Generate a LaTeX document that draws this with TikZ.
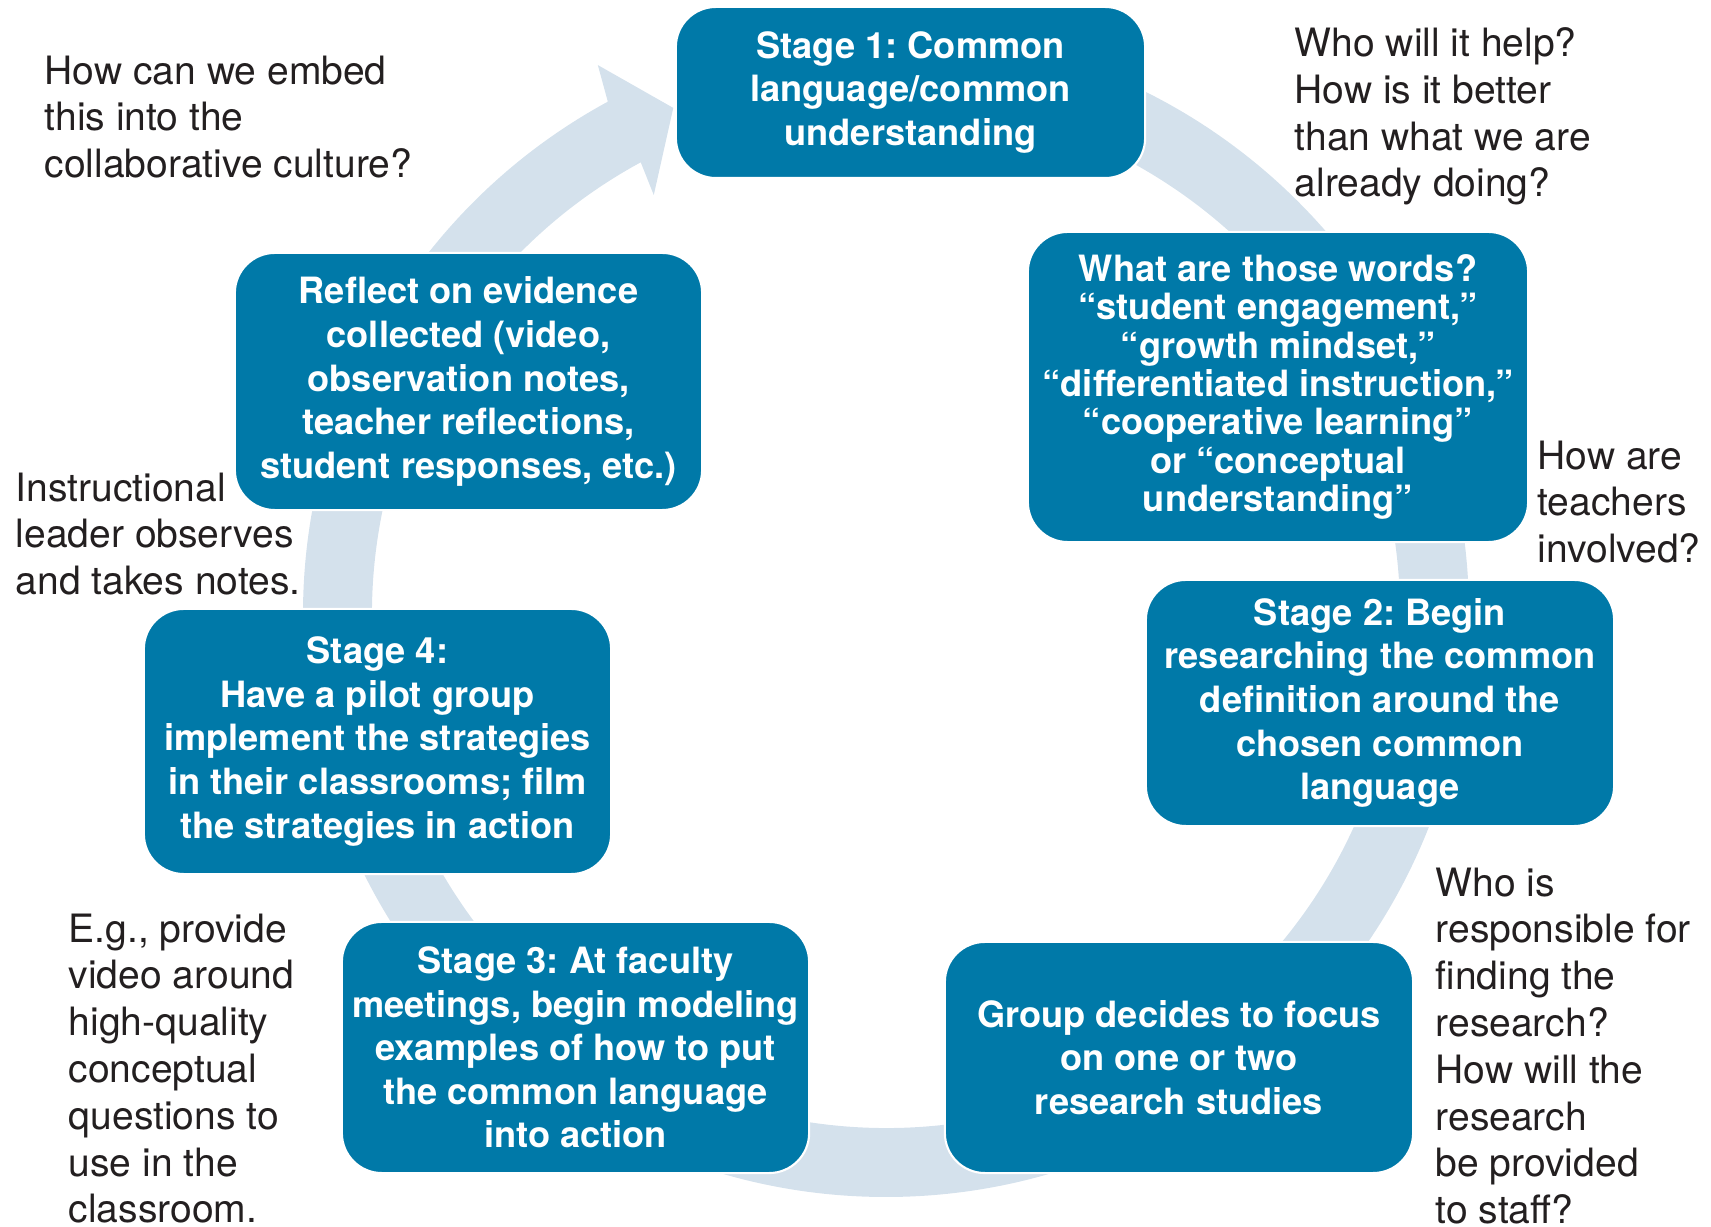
\documentclass[tikz,border=0pt]{standalone}
\usepackage{fontspec}
\setmainfont{TeX Gyre Heros}
\frenchspacing
\definecolor{stageblue}{HTML}{0079A8}
\definecolor{ringblue}{HTML}{D4E1EC}
\definecolor{notegray}{HTML}{231F20}
\begin{document}
\begin{tikzpicture}[
  x=0.01cm, y=0.01cm,
  stagebox/.style={fill=stageblue, draw=white, line width=0.6pt,
                   rounded corners=0.4cm, text=white, align=center, inner sep=0pt,
                   font=\fontsize{10.3}{12.4}\selectfont\bfseries},
  note/.style={anchor=north west, inner sep=0pt, align=left, text=notegray,
               font=\fontsize{11.1}{13.3}\selectfont}
]
\useasboundingbox (0,0) rectangle (1711,1227);

\begin{scope}[shift={(886,613)}]
\fill[ringblue] (90:583) arc[start angle=90, end angle=-241.5, radius=583]
  -- (-242.3:620) -- (-247.2:549) -- (-241:479) -- (-241.5:514)
  arc[start angle=-241.5, end angle=90, radius=514] -- cycle;
\end{scope}

\node[stagebox, minimum width=4.69cm, minimum height=1.71cm] (stageone) at (910.5,1134.5)
  {Stage 1: Common\\language/common\\understanding};
\node[stagebox, minimum width=5.0cm, minimum height=3.1cm,
      font=\fontsize{10.3}{10.9}\selectfont\bfseries] (thosewords) at (1278,840)
  {What are those words?\\“student engagement,”\\“growth mindset,”\\“differentiated instruction,”\\“cooperative learning”\\or “conceptual\\understanding”};
\node[stagebox, minimum width=4.68cm, minimum height=2.46cm] (stagetwo) at (1380,524)
  {Stage 2: Begin\\researching the common\\definition around the\\chosen common\\language};
\node[stagebox, minimum width=4.68cm, minimum height=2.31cm] (groupfocus) at (1179,169.5)
  {Group decides to focus\\on one or two\\research studies};
\node[stagebox, minimum width=4.67cm, minimum height=2.51cm] (stagethree) at (575.5,179.5)
  {Stage 3: At faculty\\meetings, begin modeling\\examples of how to put\\the common language\\into action};
\node[stagebox, minimum width=4.67cm, minimum height=2.65cm] (stagefour) at (377.5,485.5)
  {Stage 4:\\Have a pilot group\\implement the strategies\\in their classrooms; film\\the strategies in action};
\node[stagebox, minimum width=4.67cm, minimum height=2.57cm] (reflect) at (468.5,845.5)
  {Reflect on evidence\\collected (video,\\observation notes,\\teacher reflections,\\student responses, etc.)};

\node[note] (embednote) at (44,1172)
  {How can we embed\\this into the\\collaborative culture?};
\node[note] (helpnote) at (1294,1200)
  {Who will it help?\\How is it better\\than what we are\\already doing?};
\node[note] (teachernote) at (1537,787)
  {How are\\teachers\\involved?};
\node[note] (leadernote) at (15,755)
  {Instructional\\leader observes\\and takes notes.};
\node[note] (videonote) at (68,314)
  {E.g., provide\\video around\\high-quality\\conceptual\\questions to\\use in the\\classroom.};
\node[note] (researchnote) at (1435,360)
  {Who is\\responsible for\\finding the\\research?\\How will the\\research\\be provided\\to staff?};
\end{tikzpicture}
\end{document}
